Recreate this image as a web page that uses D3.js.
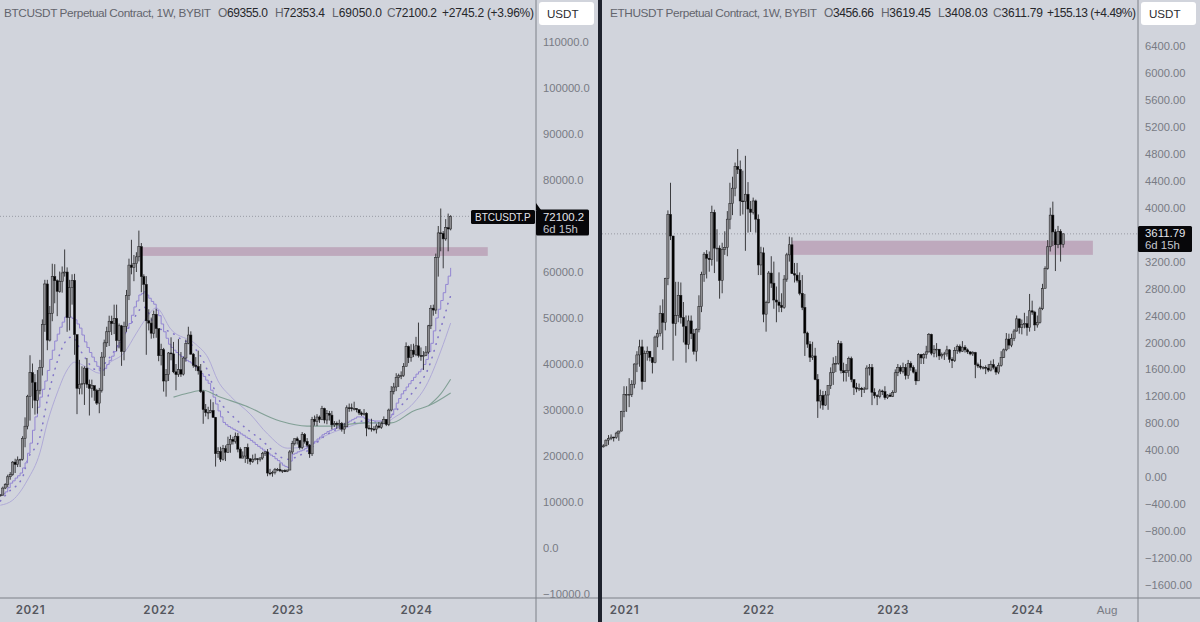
<!DOCTYPE html>
<html>
<head>
<meta charset="utf-8">
<script src="https://cdn.jsdelivr.net/npm/d3@7"></script>
<style>
  html, body { margin: 0; padding: 0; background: #d1d4dc; }
  svg { display: block; font-family: "Liberation Sans", Arial, sans-serif; }
</style>
</head>
<body>
<svg id="chart" width="1200" height="622"></svg>
<script>
// weekly bars, BTC starts the week of 2020-10-12, ETH the week of 2020-11-09
const btcFirstOpen = 11370;
const btcClose = [11500,13030,13760,15480,15960,18670,18170,19150,19270,23850,26480,33000,38100,36000,32100,34300,39250,48600,57400,45200,51000,59000,58100,55800,57900,59800,60000,50100,56600,58200,46400,34700,35600,35800,39100,35600,34700,35300,34250,31500,34300,41500,44600,47000,49300,48800,49900,45100,48300,42700,48200,54900,61500,61000,61800,63300,65500,59000,57300,49400,48900,46700,50800,47700,41800,43100,36300,37700,42400,42200,38300,37700,38800,37800,41300,44500,46300,42150,39700,39450,38500,34000,30100,29450,29500,29900,28400,20500,21000,19300,21600,20800,22500,23600,23200,24300,21500,19550,19990,21800,19400,18800,19300,19400,19250,19570,20600,20900,16300,16280,16450,17100,17100,16780,16840,16600,16950,20880,22700,23750,23320,21860,24630,23170,22350,20470,27980,27490,28470,27900,30300,27820,29240,28880,26770,27120,26850,27100,25840,26340,30480,30470,30290,30290,30080,29350,29050,29300,26090,26020,25870,25830,26530,26250,27000,27960,26860,29990,34070,35000,37060,37440,37450,39460,43780,41360,43000,42100,43950,41830,41660,41800,42580,48300,52130,51730,63100,68500,68400,67200,69640,69355,72100.2];
const btcHigh = [11720,13350,14090,15950,16500,18900,19400,19900,19400,24300,28400,33300,41900,40100,37800,38700,40900,49700,58300,58300,52600,61800,61700,58400,60100,61200,64900,61000,58300,59500,59600,46000,40900,39500,39500,41300,36600,36600,35100,34600,34800,42600,45300,48100,50500,50500,52900,52900,48800,48500,49200,56100,62900,67000,63700,64300,69000,66300,59500,59100,51900,50100,51600,52000,47600,44400,43500,38900,42600,45800,44800,40000,45400,42600,41600,45300,48100,47100,42400,41500,42900,40000,34300,31300,30700,32300,31700,28500,21900,22000,22400,22300,24200,24600,24200,25100,25000,21900,21000,21900,22700,19500,20300,20500,19500,19700,20900,21000,21500,17200,16800,17400,17400,18400,17000,17100,17000,21300,23300,23800,24200,23400,25200,25000,23900,22600,28500,28800,29100,28800,30900,30500,30000,29800,29800,27600,27500,27900,27400,27200,31000,31400,31400,31800,30400,30000,29700,30200,29500,26800,28100,26500,27000,27400,27500,28600,28000,30300,35200,35900,38000,37900,38400,40200,44700,44000,44300,44400,45900,49000,43600,42800,43900,48500,52800,52900,64000,70000,73800,68900,71500,72700,72353.4];
const btcLow = [11200,11400,12800,13200,14850,15700,16300,17600,17600,19000,21900,25800,27700,30400,29000,29200,33400,37500,47000,43000,44900,49300,53200,50400,55500,55500,59000,47000,47300,52900,42000,29100,33400,33400,31100,34800,28800,32700,32000,31100,29300,33800,37400,43700,43900,46300,46500,42800,43400,39600,40800,47000,53900,59500,58000,60000,62300,55600,53500,42000,47300,45500,45600,45700,40600,39700,34000,32900,36300,40800,38000,34300,37200,37200,37500,40500,44300,42000,39200,38500,37700,33700,27000,28600,28000,29300,28300,17700,19600,18700,19000,18900,20700,20700,22500,22700,20800,19500,19500,18500,18300,18100,18500,19000,18200,18800,19200,20000,15600,15800,15500,16000,16700,16500,16300,16500,16500,16900,20400,22300,22500,21400,21500,22700,21900,19600,20000,26600,26500,27200,27800,27100,26900,27700,25800,26300,25900,25800,25300,24800,26300,29600,29700,29900,29500,28900,28700,28800,24300,25700,25300,25400,24900,26000,25900,27200,26500,26500,29700,33400,34100,35000,36700,37200,39900,40200,40500,41500,41700,41400,40700,38700,41700,42200,47600,50500,50900,59000,64500,60800,66800,64500,69050];

// stepped fast average, one value per week from week 0
const btcFast = [11500,11800,12200,13100,14100,14600,15200,15700,16300,17400,18500,20600,22800,25600,28500,30600,32800,34500,36300,38600,41000,43000,45000,46500,48000,49100,50200,50200,50200,49900,49600,48700,47800,46300,44800,43600,42500,41500,40500,39500,38500,38700,39000,39900,40800,41700,42700,43700,44700,45700,46800,47800,48800,50600,52400,53700,55000,55300,55700,55000,54300,53600,53000,51700,50500,48700,47000,45600,44300,43600,43000,42500,42000,41600,41200,40800,40500,40200,39900,39200,38600,37900,37300,36500,35800,34300,32800,31300,29800,28500,27300,26800,26400,26100,25800,25500,25200,24800,24500,24100,23800,23400,23000,22500,22100,21700,21300,20900,20600,20200,19900,19400,19000,18500,18000,17700,17500,18900,20400,20600,20900,21100,21300,21600,22000,22400,22800,23200,23700,24100,24600,24900,25300,25500,25800,26000,26300,26500,26800,27000,27300,27600,27900,28200,28500,28500,28500,28200,28000,27800,27700,27600,27600,27600,27600,27700,27900,28400,29000,30200,31500,32500,33500,34200,35000,35700,36400,37100,37800,38300,38900,39900,41000,42700,44500,47200,50000,51900,53800,55500,57300,59100,60900];
const btcMidWeeks = [0,3,9,11,16,19,22,26,29,33,39,44,52,58,63,69,73,77,82,88,96,105,116,124,131,139,147,155,159,167,173,178,180,181,182];
const btcMidValues = [10200,12000,15400,19100,24100,32200,38700,44600,45900,42400,38700,41300,48000,52400,48000,46900,45400,44300,40700,32600,27600,23700,19300,21100,24300,26500,27600,27200,29300,34100,39100,47800,51300,53300,54800];
const btcSlowWeeks = [0,5,11,16,19,23,27,30,35,40,44,50,55,59,63,69,79,84,88,93,101,108,116,125,131,139,147,155,159,167,172,178,182];
const btcSlowValues = [9300,10400,14800,20700,27200,33700,38700,40400,39300,38000,40200,42400,46700,50000,52200,47500,44300,41300,36300,33000,29100,24800,21700,22200,24300,26000,27200,27000,28300,31500,35200,42800,48900];
const btcGreenWeeks = [70,76,82,88,99,113,124,133,147,158,167,173,182];
const btcGreenValues = [32800,33700,34300,33000,30900,27600,26500,26500,27200,27200,29800,30900,33700];
const btcGreen2Weeks = [173,178,182];
const btcGreen2Values = [30900,33500,36700];

const ethFirstOpen = 450;
const ethClose = [465,550,575,595,590,655,685,975,1225,1230,1230,1380,1680,1815,1935,1420,1835,1870,1780,1700,2080,2130,2430,2300,2950,3900,3580,2280,2400,2700,2370,2240,1970,2320,2130,1870,2190,2530,3010,3310,3250,3230,3930,3400,3400,2920,3380,3410,3830,4060,4290,4610,4570,4100,4090,4200,3980,3930,4100,3830,3150,3330,2420,2590,3030,2880,2630,2600,2550,2520,2940,3300,3450,3020,3000,2920,2730,2520,2140,1975,1780,1800,1450,1130,1215,1070,1220,1360,1550,1680,1690,1985,1580,1550,1580,1760,1450,1330,1310,1320,1300,1310,1620,1630,1260,1210,1200,1280,1270,1180,1220,1200,1260,1550,1630,1570,1630,1510,1690,1630,1560,1430,1820,1770,1820,1860,2120,1840,1900,1900,1800,1820,1830,1890,1750,1730,1880,1940,1870,1930,1890,1860,1830,1850,1670,1650,1630,1630,1620,1590,1670,1630,1560,1660,1780,1890,2050,1960,2060,2170,2350,2220,2270,2280,2220,2470,2450,2260,2300,2500,2800,3100,3420,3890,3640,3450,3650,3456.66,3611.79];
const ethHigh = [490,560,625,635,600,675,690,985,1350,1350,1470,1440,1690,1870,2040,2040,1880,1940,1870,1750,2100,2190,2550,2640,2960,3960,4370,3580,2900,2900,2890,2600,2400,2400,2400,2200,2210,2700,3050,3340,3370,3350,4030,3970,3680,3440,3480,3650,3950,4370,4460,4670,4870,4700,4550,4770,4380,4100,4150,4120,3900,3420,3410,2620,3060,3280,3200,2830,3040,2730,3000,3330,3570,3560,3180,3180,3040,3000,2720,2160,2020,2010,1920,1530,1300,1280,1280,1360,1630,1780,1800,2030,2020,1700,1680,1790,1790,1400,1400,1390,1340,1340,1660,1680,1680,1320,1230,1310,1300,1350,1230,1250,1290,1600,1680,1660,1700,1680,1740,1720,1660,1600,1840,1830,1840,1950,2140,2130,1960,1990,1900,1850,1860,1950,1900,1780,1930,1970,1970,2020,1960,1910,1870,1870,1860,1700,1750,1650,1660,1680,1730,1750,1650,1700,1870,1910,2140,2130,2130,2200,2400,2350,2340,2440,2390,2720,2620,2470,2400,2530,2870,3130,3520,4000,4090,3680,3730,3680,3619.45];
const ethLow = [440,460,480,550,530,570,540,680,890,970,1040,1190,1320,1560,1640,1300,1440,1730,1720,1540,1690,1930,2090,1890,2180,2850,3520,1730,2100,2300,2280,2000,1700,1900,2050,1820,1720,2150,2450,2900,2950,3050,3140,3030,3200,2650,2730,3300,3280,3680,3890,4170,4500,3880,3900,3360,3630,3640,3900,3630,3000,3000,2300,2160,2580,2810,2500,2300,2450,2450,2500,2900,3200,3020,2890,2890,2700,2480,1800,1920,1710,1740,1440,880,1020,1000,1060,1000,1310,1370,1560,1670,1540,1420,1420,1490,1410,1220,1260,1280,1190,1250,1300,1510,1070,1170,1070,1170,1220,1150,1160,1190,1190,1260,1500,1530,1540,1450,1460,1580,1540,1370,1430,1680,1680,1760,1850,1810,1780,1780,1740,1760,1740,1790,1700,1620,1710,1830,1840,1860,1850,1830,1810,1800,1470,1620,1600,1600,1530,1560,1570,1600,1520,1530,1640,1770,1870,1900,1930,2020,2160,2130,2120,2210,2100,2160,2410,2170,2220,2280,2480,2860,3080,3350,3430,3060,3400,3200,3408.03];

// the 70000 and 3600 levels sit behind the price tags in the reference, so they are left out
const btcTicks = [110000,100000,90000,80000,60000,50000,40000,30000,20000,10000,0,-10000];
const ethTicks = [6400,6000,5600,5200,4800,4400,4000,3200,2800,2400,2000,1600,1200,800,400,0,-400,-800,-1200,-1600];
const btcYearWeeks = [12,64,116,168];
const ethYearWeeks = [8,60,112,164];
const yearLabels = ['2021','2022','2023','2024'];
const btcZone = [63500,65400];
const btcZoneWeeks = [57,197];
const ethZone = [3300,3510];
const ethZoneWeeks = [73,189.5];

const svg = d3.select('#chart');
const bg = '#d1d4dc', axisLine = '#7d8088', tickColor = '#787b84';
const boldFont = 'Inter, sans-serif', axisFont = '"Liberation Sans", Arial, sans-serif';

svg.append('rect').attr('width', 1200).attr('height', 622).attr('fill', bg);

function addCandles(g, x, y, closes, highs, lows, firstOpen) {
  const bars = closes.map((c, i) => ({
    i, c, h: highs[i], l: lows[i], o: i === 0 ? firstOpen : closes[i - 1]
  }));
  g.selectAll('.wick').data(bars).enter().append('line')
    .attr('x1', d => x(d.i)).attr('x2', d => x(d.i))
    .attr('y1', d => y(d.h)).attr('y2', d => y(d.l))
    .attr('stroke', '#2a2a2d').attr('stroke-width', 0.9);
  g.selectAll('.body').data(bars).enter().append('rect')
    .attr('x', d => x(d.i) - 1.1).attr('width', 2.2)
    .attr('y', d => y(Math.max(d.o, d.c)))
    .attr('height', d => Math.max(0.8, Math.abs(y(d.o) - y(d.c))))
    .attr('fill', d => d.c >= d.o ? '#8c8c90' : '#000')
    .attr('stroke', '#1a1a1c').attr('stroke-width', 0.5);
}

// title and OHLC pieces each get their own start position so the row lines up
function addHeader(titleX, title, titleWidth, parts, changeX, changeWidth, change) {
  svg.append('text').attr('x', titleX).attr('y', 17).attr('font-size', 11.8).attr('fill', '#63656d')
    .attr('textLength', titleWidth).attr('lengthAdjust', 'spacing').text(title);
  parts.forEach(p => {
    const t = svg.append('text').attr('x', p[2]).attr('y', 17).attr('font-size', 12)
      .attr('fill', '#63656d').attr('textLength', 50).attr('lengthAdjust', 'spacing');
    t.append('tspan').text(p[0]);
    t.append('tspan').attr('fill', '#26272b').text(p[1]);
  });
  svg.append('text').attr('x', changeX - changeWidth).attr('y', 17).attr('font-size', 12)
    .attr('fill', '#26272b').attr('textLength', changeWidth).attr('lengthAdjust', 'spacing').text(change);
}

function addPriceTag(x, y, w, price, left) {
  const tag = svg.append('g');
  tag.append('rect').attr('x', x).attr('y', y).attr('width', w).attr('height', 26).attr('rx', 1.5).attr('fill', '#07070a');
  tag.append('text').attr('x', x + 7).attr('y', y + 11).attr('font-size', 11.4).attr('fill', '#e4e5ea').text(price);
  tag.append('text').attr('x', x + 7).attr('y', y + 23).attr('font-size', 11.4).attr('fill', '#c4c6cd').text(left);
}

function addPanel(p) {
  const x = d3.scaleLinear().domain(p.weekDomain).range(p.xRange);
  const y = d3.scaleLinear().domain(p.priceDomain).range(p.yRange);

  const clipId = 'clip-' + p.name;
  svg.append('clipPath').attr('id', clipId).append('rect')
    .attr('x', p.left).attr('y', 0).attr('width', p.axisX - p.left).attr('height', 598);
  const plot = svg.append('g').attr('clip-path', `url(#${clipId})`);

  // last price line
  plot.append('line')
    .attr('x1', p.left).attr('x2', p.axisX)
    .attr('y1', y(p.last)).attr('y2', y(p.last))
    .attr('stroke', '#8a8d95').attr('stroke-width', 0.8).attr('stroke-dasharray', '1 2');

  p.draw && p.draw(plot, x, y);

  plot.append('rect')
    .attr('x', x(p.zoneWeeks[0])).attr('width', x(p.zoneWeeks[1]) - x(p.zoneWeeks[0]))
    .attr('y', y(p.zone[1])).attr('height', y(p.zone[0]) - y(p.zone[1]))
    .attr('fill', '#bda6bb').attr('opacity', 0.95);

  addCandles(plot, x, y, p.closes, p.highs, p.lows, p.firstOpen);

  const yAxis = d3.axisRight(y).tickValues(p.ticks).tickSize(0).tickPadding(7)
    .tickFormat(d3.format(p.tickFormat));
  const ya = svg.append('g').attr('transform', `translate(${p.axisX},0)`).call(yAxis);
  ya.select('.domain').remove();
  ya.selectAll('text').attr('fill', tickColor).attr('font-size', 11.2).attr('font-family', axisFont);

  const xAxis = d3.axisBottom(x).tickValues(p.yearWeeks).tickSize(0)
    .tickFormat((d, i) => yearLabels[i]);
  const xa = svg.append('g').attr('transform', 'translate(0,598)').call(xAxis);
  xa.select('.domain').remove();
  xa.selectAll('text').attr('y', 8).attr('dy', '.71em')
    .attr('fill', '#55575e').attr('font-size', 11.6).attr('font-weight', 600)
    .attr('letter-spacing', 0.6).attr('font-family', boldFont);

  svg.append('line').attr('x1', p.axisX).attr('x2', p.axisX).attr('y1', 0).attr('y2', 622)
    .attr('stroke', axisLine).attr('stroke-width', 1);

  svg.append('rect').attr('x', p.axisX + 3).attr('y', 2).attr('width', 55).attr('height', 23).attr('rx', 3).attr('fill', '#fff');
  svg.append('text').attr('x', p.axisX + 11).attr('y', 18).attr('font-size', 11.6).attr('fill', '#2b2c30').text('USDT');

  return {x, y};
}

function movingLine(weeks, values, x, y, curve) {
  return d3.line().x((d, i) => x(weeks[i])).y(d => y(d)).curve(curve)(values);
}

addPanel({
  name: 'btc', left: 0, axisX: 536,
  weekDomain: [12, 168], xRange: [30, 416],
  priceDomain: [-10000, 110000], yRange: [594, 42],
  closes: btcClose, highs: btcHigh, lows: btcLow, firstOpen: btcFirstOpen,
  ticks: btcTicks, tickFormat: '.1f', yearWeeks: btcYearWeeks,
  zone: btcZone, zoneWeeks: btcZoneWeeks, last: 72100.2,
  draw(plot, x, y) {
    const fastWeeks = btcFast.map((d, i) => i);
    plot.append('path').attr('d', movingLine(btcSlowWeeks, btcSlowValues, x, y, d3.curveMonotoneX))
      .attr('fill', 'none').attr('stroke', '#aba5d6').attr('stroke-width', 0.9);
    plot.append('path').attr('d', movingLine(btcMidWeeks, btcMidValues, x, y, d3.curveMonotoneX))
      .attr('fill', 'none').attr('stroke', '#8376c8').attr('stroke-width', 1.6)
      .attr('stroke-linecap', 'round').attr('stroke-dasharray', '0.5 6.5');
    plot.append('path').attr('d', movingLine(fastWeeks, btcFast, x, y, d3.curveStepAfter))
      .attr('fill', 'none').attr('stroke', '#9285d2').attr('stroke-width', 1);
    plot.append('path').attr('d', movingLine(btcGreenWeeks, btcGreenValues, x, y, d3.curveMonotoneX))
      .attr('fill', 'none').attr('stroke', '#82a096').attr('stroke-width', 1.1);
    plot.append('path').attr('d', movingLine(btcGreen2Weeks, btcGreen2Values, x, y, d3.curveMonotoneX))
      .attr('fill', 'none').attr('stroke', '#82a096').attr('stroke-width', 1.1);
  }
});

const ethPanel = addPanel({
  name: 'eth', left: 602, axisX: 1138,
  weekDomain: [8, 164], xRange: [624, 1027],
  priceDomain: [-1600, 6400], yRange: [585, 46],
  closes: ethClose, highs: ethHigh, lows: ethLow, firstOpen: ethFirstOpen,
  ticks: ethTicks, tickFormat: '.2f', yearWeeks: ethYearWeeks,
  zone: ethZone, zoneWeeks: ethZoneWeeks, last: 3611.79
});

// Aug tick on the ETH time axis, week of 2024-08-05
svg.append('text').attr('x', ethPanel.x(195)).attr('y', 614).attr('text-anchor', 'middle')
  .attr('font-size', 11.6).attr('fill', '#787b84').text('Aug');

svg.append('line').attr('x1', 0).attr('x2', 1200).attr('y1', 598).attr('y2', 598)
  .attr('stroke', axisLine).attr('stroke-width', 1);
svg.append('rect').attr('x', 598).attr('y', 0).attr('width', 4).attr('height', 622).attr('fill', '#1e222d');

addHeader(4, 'BTCUSDT Perpetual Contract, 1W, BYBIT', 207,
  [['O','69355.0',218],['H','72353.4',275],['L','69050.0',332],['C','72100.2',387]], 534, 92, '+2745.2 (+3.96%)');
addHeader(610, 'ETHUSDT Perpetual Contract, 1W, BYBIT', 207,
  [['O','3456.66',824],['H','3619.45',881],['L','3408.03',938],['C','3611.79',993]], 1136, 89, '+155.13 (+4.49%)');

// price tags
svg.append('rect').attr('x', 471).attr('y', 210).attr('width', 64).attr('height', 14).attr('rx', 1.5).attr('fill', '#07070a');
svg.append('text').attr('x', 475).attr('y', 221).attr('font-size', 10).attr('fill', '#e4e5ea').text('BTCUSDT.P');
svg.append('path').attr('d', d3.line()([[536, 203], [541, 210], [536, 210]])).attr('fill', '#07070a');
addPriceTag(536, 209.5, 53, '72100.2', '6d 15h');
addPriceTag(1138, 226, 54, '3611.79', '6d 15h');
</script>
</body>
</html>
